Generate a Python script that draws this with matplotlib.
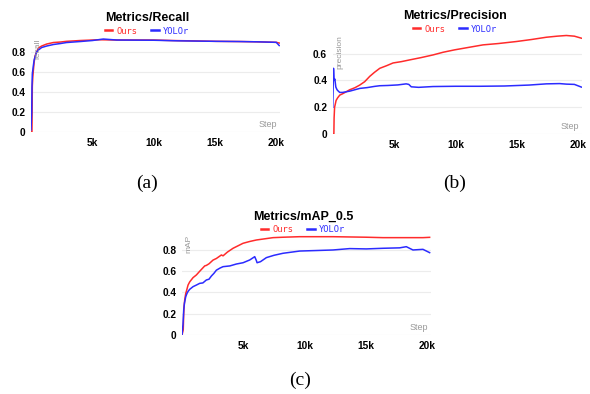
import matplotlib
matplotlib.use("Agg")
import matplotlib.pyplot as plt

# ---------------- data ----------------
recall_ours_steps = [0, 80, 110, 150, 190, 260, 330, 460, 600, 870, 1280, 1820, 2400, 2900, 4000,
                     5600, 7000, 8500, 10000, 11500, 13000, 15100, 17000, 18500, 20000, 20240]
recall_ours_vals = [0, 0.0, 0.46, 0.55, 0.61, 0.70, 0.76, 0.80, 0.84, 0.86, 0.88, 0.895, 0.90, 0.907,
                    0.915, 0.923, 0.92, 0.92, 0.92, 0.915, 0.912, 0.907, 0.905, 0.902, 0.897, 0.89]
recall_yolor_steps = [0, 60, 80, 110, 190, 260, 330, 460, 600, 870, 1280, 1820, 2400, 2900, 4000,
                      5000, 5900, 7000, 10000, 12000, 15100, 17000, 18500, 20000, 20240]
recall_yolor_vals = [0.02, 0.2, 0.44, 0.58, 0.66, 0.72, 0.75, 0.80, 0.82, 0.845, 0.86, 0.875, 0.885,
                     0.895, 0.905, 0.915, 0.93, 0.92, 0.918, 0.912, 0.907, 0.905, 0.902, 0.897, 0.865]

prec_ours_steps = [0, 90, 110, 150, 200, 272, 400, 571, 800, 1000, 1385, 1800, 2200, 2600, 3016,
                   3400, 3831, 4400, 4918, 5600, 6277, 7200, 8178, 9000, 9944, 11000, 12253, 13500,
                   14970, 16200, 17415, 18300, 19045, 19700, 20268]
prec_ours_vals = [0, 0.0, 0.12, 0.2, 0.22, 0.25, 0.27, 0.29, 0.30, 0.31, 0.33, 0.345, 0.365, 0.39,
                  0.43, 0.46, 0.49, 0.51, 0.53, 0.54, 0.553, 0.57, 0.59, 0.61, 0.628, 0.645, 0.665,
                  0.675, 0.69, 0.705, 0.722, 0.73, 0.735, 0.73, 0.715]
prec_yolor_steps = [0, 60, 110, 170, 250, 350, 450, 570, 800, 1100, 1400, 1800, 2200, 2800, 3400,
                    3831, 4500, 5300, 5984, 6200, 6400, 7000, 8178, 10000, 12000, 14000, 16000,
                    17415, 18500, 19045, 19700, 20268]
prec_yolor_vals = [0.2, 0.49, 0.40, 0.41, 0.35, 0.33, 0.32, 0.31, 0.31, 0.315, 0.32, 0.33, 0.34,
                   0.346, 0.355, 0.36, 0.362, 0.366, 0.374, 0.37, 0.352, 0.348, 0.354, 0.356, 0.356,
                   0.358, 0.365, 0.374, 0.376, 0.372, 0.37, 0.35]

map_ours_steps = [0, 100, 139, 166, 220, 302, 400, 492, 628, 900, 1171, 1443, 1851, 1987, 2200,
                  2530, 2802, 3210, 3346, 3700, 4161, 4977, 5520, 6064, 7421, 8236, 9594, 12311,
                  15027, 16385, 17743, 19645, 20188]
map_ours_vals = [0, 0.05, 0.2, 0.27, 0.33, 0.39, 0.43, 0.47, 0.5, 0.54, 0.565, 0.6, 0.65, 0.655,
                 0.67, 0.705, 0.72, 0.753, 0.745, 0.78, 0.816, 0.863, 0.88, 0.894, 0.916, 0.92,
                 0.925, 0.925, 0.92, 0.916, 0.916, 0.916, 0.919]
map_yolor_steps = [0, 80, 139, 200, 302, 400, 492, 628, 900, 1171, 1443, 1700, 1987, 2200, 2394,
                   2600, 2802, 3100, 3346, 3900, 4433, 4977, 5520, 5928, 6064, 6118, 6400, 6877,
                   7500, 8236, 9594, 11000, 12311, 13669, 15027, 16385, 17743, 18287, 18830,
                   19645, 20188]
map_yolor_vals = [0, 0.1, 0.235, 0.3, 0.36, 0.39, 0.41, 0.43, 0.455, 0.47, 0.486, 0.49, 0.518,
                  0.525, 0.555, 0.58, 0.61, 0.63, 0.643, 0.65, 0.668, 0.68, 0.706, 0.737, 0.70,
                  0.68, 0.69, 0.728, 0.75, 0.769, 0.79, 0.795, 0.80, 0.813, 0.81, 0.816, 0.82,
                  0.831, 0.80, 0.806, 0.775]

series_names = ["Ours", "YOLOr"]
titles = ["Metrics/Recall", "Metrics/Precision", "Metrics/mAP_0.5"]
ylabels = ["recall", "precision", "mAP"]
captions = ["(a)", "(b)", "(c)"]
xticks = [5000, 10000, 15000, 20000]
xticklabels = ["5k", "10k", "15k", "20k"]

RED = "#ff2b2b"
BLUE = "#2b2bff"

fig = plt.figure(figsize=(5.9, 3.94), dpi=100)

panels = [
    dict(rect=[0.0525, 0.665, 0.422, 0.241], ylim=0.95, yt=[0, 0.2, 0.4, 0.6, 0.8],
         data=[(recall_ours_steps, recall_ours_vals), (recall_yolor_steps, recall_yolor_vals)],
         title_xy=(147 / 590, 1 - 18 / 394), cap_xy=(147 / 590, 1 - 183 / 394)),
    dict(rect=[0.564, 0.66, 0.422, 0.255], ylim=0.75, yt=[0, 0.2, 0.4, 0.6],
         data=[(prec_ours_steps, prec_ours_vals), (prec_yolor_steps, prec_yolor_vals)],
         title_xy=(455 / 590, 1 - 16 / 394), cap_xy=(455 / 590, 1 - 183 / 394)),
    dict(rect=[0.3085, 0.1497, 0.422, 0.259], ylim=0.96, yt=[0, 0.2, 0.4, 0.6, 0.8],
         data=[(map_ours_steps, map_ours_vals), (map_yolor_steps, map_yolor_vals)],
         title_xy=(303 / 590, 1 - 217 / 394), cap_xy=(300 / 590, 1 - 380 / 394)),
]

for i, p in enumerate(panels):
    ax = fig.add_axes(p["rect"])
    for (st, vals), col, name in zip(p["data"], [RED, BLUE], series_names):
        ax.plot(st, vals, color=col, lw=1.1, label=name)
    ax.set_xlim(0, 20300)
    ax.set_ylim(0, p["ylim"])
    ax.set_yticks(p["yt"])
    ax.set_yticklabels(["0" if v == 0 else f"{v:.1f}" for v in p["yt"]])
    ax.set_xticks(xticks)
    ax.set_xticklabels(xticklabels)
    for lab in ax.get_xticklabels() + ax.get_yticklabels():
        lab.set_fontweight("bold")
        lab.set_fontsize(7.3)
        lab.set_family("Liberation Sans")
    ax.tick_params(length=0, pad=4)
    ax.grid(axis="y", color="#ececec", lw=0.8)
    ax.set_axisbelow(True)
    for s in ax.spines.values():
        s.set_visible(False)
    ax.text(0.99, 0.03, "Step", transform=ax.transAxes, ha="right", va="bottom",
            fontsize=6.5, color="#999999", family="Liberation Sans")
    ax.text(0.015, 0.98, ylabels[i], transform=ax.transAxes, ha="left", va="top",
            rotation=90, fontsize=6, color="#999999", family="Liberation Sans")
    tx, ty = p["title_xy"]
    fig.text(tx, ty, titles[i], ha="center", va="center", fontsize=9,
             fontweight="bold", family="Liberation Sans")
    leg = ax.legend(loc="center", bbox_to_anchor=(tx, ty - 13 / 394),
                    bbox_transform=fig.transFigure, ncol=2, frameon=False,
                    handlelength=0.9, handletextpad=0.5, columnspacing=1.5,
                    prop={"family": "DejaVu Sans Mono", "size": 6.3})
    for txt, col in zip(leg.get_texts(), [RED, BLUE]):
        txt.set_color(col)
    for h in leg.get_lines():
        h.set_linewidth(1.8)
    cx, cy = p["cap_xy"]
    fig.text(cx, cy, captions[i], ha="center", va="center", fontsize=14,
             family="Liberation Serif")

fig.savefig("out.png", dpi=100)
